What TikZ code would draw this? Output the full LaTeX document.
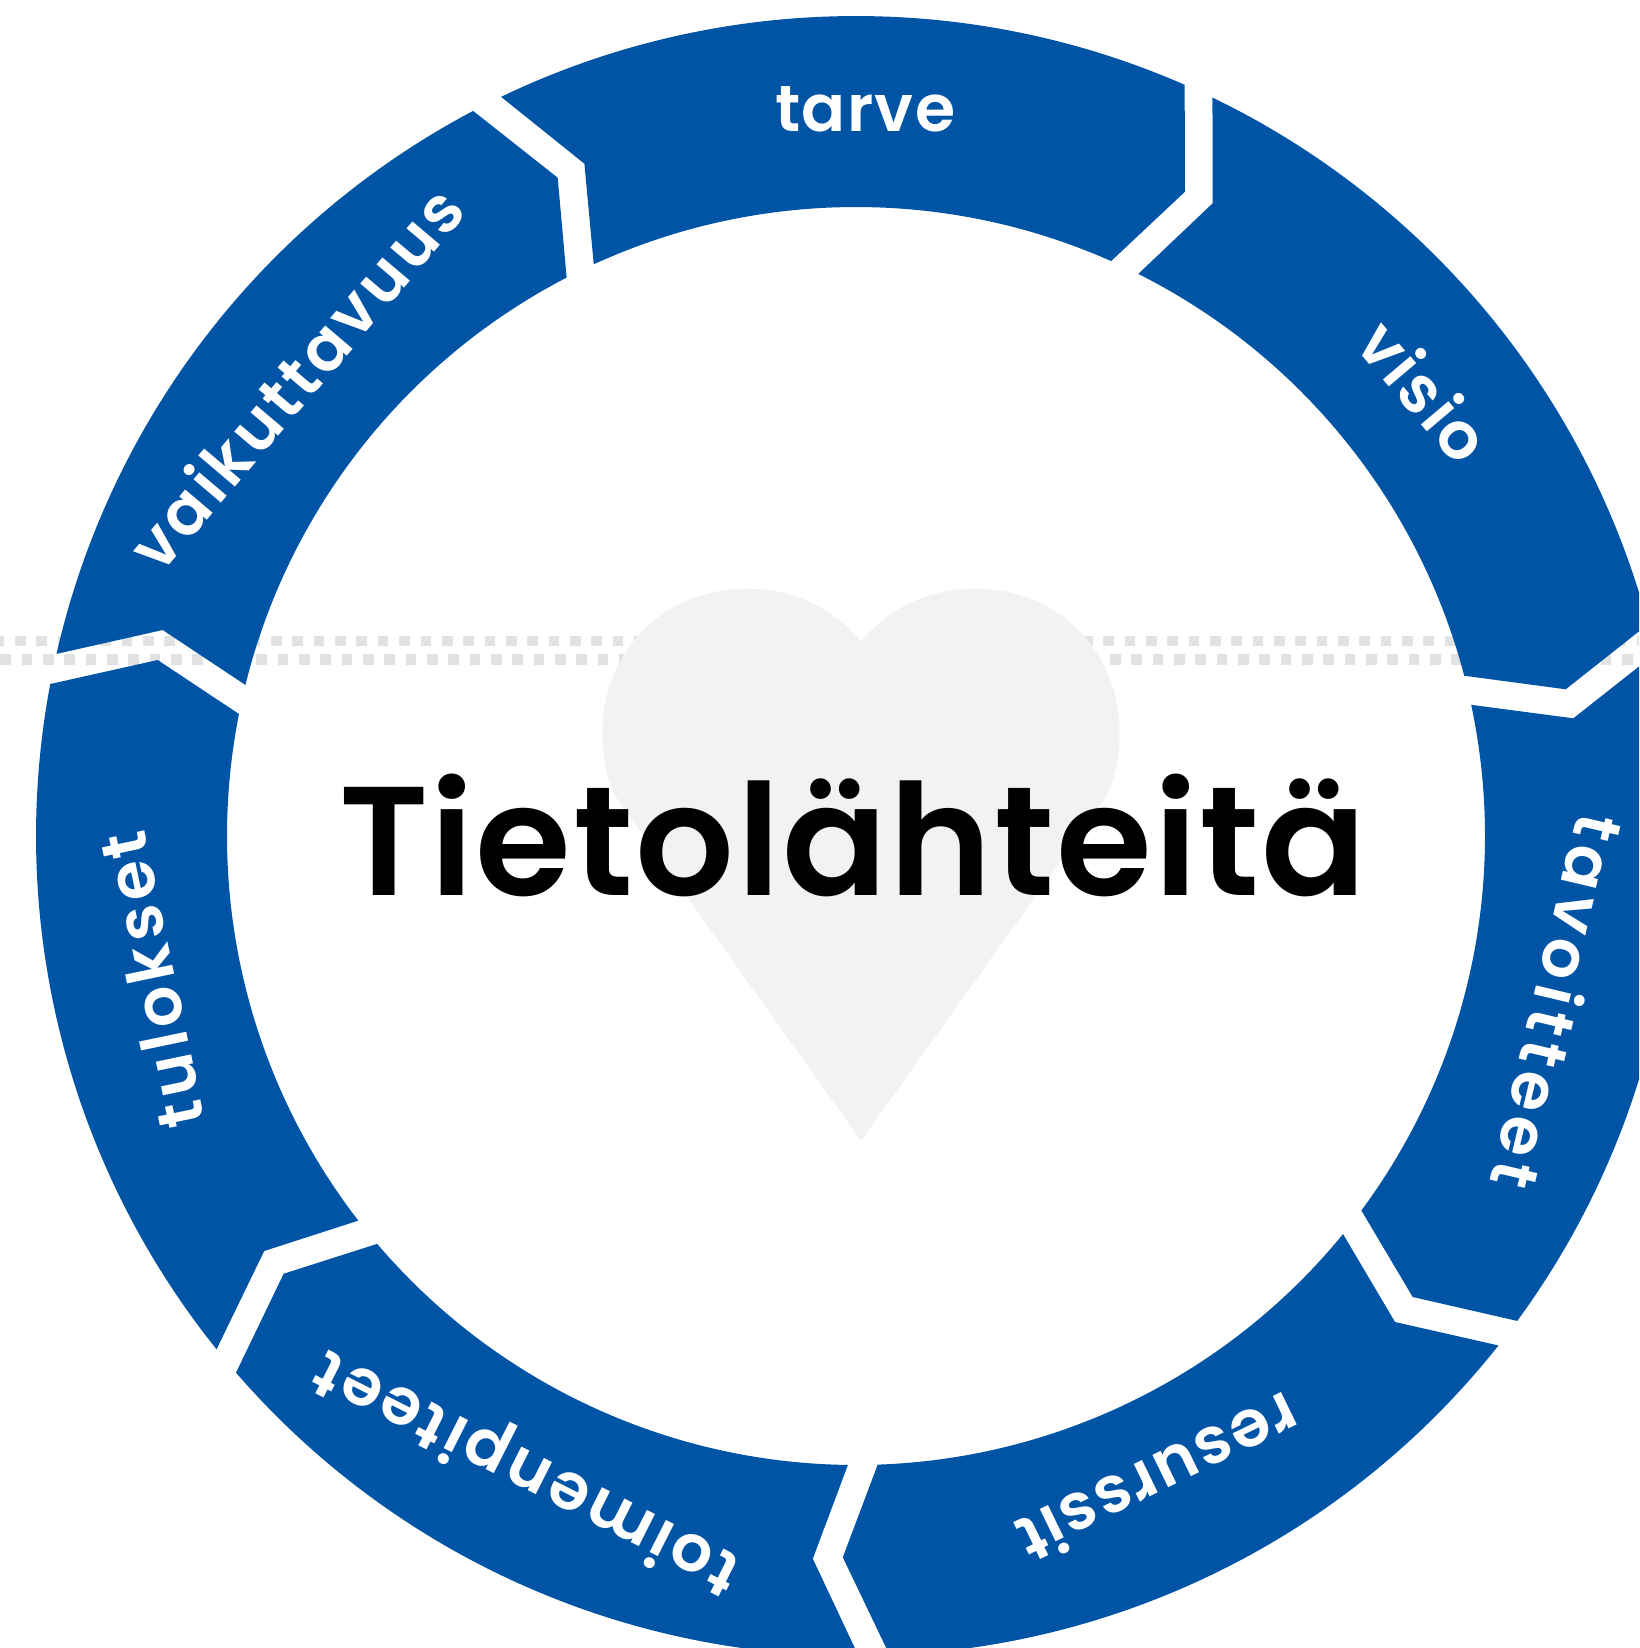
\documentclass[tikz,border=0pt]{standalone}
\usepackage{fontspec}
\newfontfamily\popsb{Poppins SemiBold}
\definecolor{ringblue}{HTML}{0054A6}
\definecolor{heartgray}{HTML}{F2F2F2}
\definecolor{dotgray}{HTML}{E2E2E2}
\tikzset{
  ringfill/.style={fill=ringblue,draw=none},
  dotline/.style={draw=dotgray,line width=10.67pt,dash pattern=on 10.67pt off 10.67pt},
  labeltext/.style={text=white,anchor=base,inner sep=0pt,outer sep=0pt},
  titletext/.style={text=black,anchor=base,inner sep=0pt,outer sep=0pt}
}
% ring segment: outer start, outer end, inner start, inner end; then knees
\def\ringangles(#1,#2)(#3,#4)(#5,#6)(#7,#8){%
  \pgfmathsetmacro\aO{atan2(#2-836,#1-856)}%
  \pgfmathsetmacro\bO{atan2(#4-836,#3-856)}%
  \pgfmathsetmacro\aI{atan2(#6-836,#5-856)}%
  \pgfmathsetmacro\bI{atan2(#8-836,#7-856)}%
  \pgfmathsetmacro\bO{\bO<\aO ? \bO+360 : \bO}%
  \pgfmathsetmacro\bI{\bI<\aI ? \bI+360 : \bI}%
}
\newcommand{\ringseg}[2]{%
  \fill[ringfill] ([shift={(\aO:820pt)}]856,836) arc[start angle=\aO,end angle=\bO,radius=820pt]
    -- (#2) -- ([shift={(\bI:629pt)}]856,836) arc[start angle=\bI,end angle=\aI,radius=629pt]
    -- (#1) -- cycle;
}
% label: name, text, letter space, size, position, rotation, style
\newcommand{\fitlabel}[7]{%
  \node[#7,rotate=#6] (#1) at (#5) {\popsb\fontsize{#4}{#4}\selectfont\addfontfeature{LetterSpace=#3}#2};
}
\begin{document}
\begin{tikzpicture}[x=1pt,y=1pt,yscale=-1]
\useasboundingbox (0,0) rectangle (1639,1648);
\clip (0,0) rectangle (1639,1648);
% dotted guide lines
\draw[dotline] (-6.3,641) -- (1650,641);
\draw[dotline] (0.3,659.3) -- (1650,659.3);
% heart
\fill[heartgray] (861,641)
  .. controls (830,605) and (790,588.7) .. (746,588.7)
  .. controls (665,588.7) and (602.4,650) .. (602.4,732.8)
  .. controls (602.4,760) and (608,784) .. (618,800)
  -- (861,1140.7) -- (1104,800)
  .. controls (1114,784) and (1119.6,760) .. (1119.6,732.8)
  .. controls (1119.6,650) and (1057,588.7) .. (976,588.7)
  .. controls (932,588.7) and (892,605) .. (861,641) -- cycle;
% tarve
\ringangles(501,96.7)(1185,84)(593.6,264)(1111.3,260.7)
\ringseg{584.4,163.7}{1185,191.7}
% visio
\ringangles(1212.6,97.3)(1648.5,624)(1138.4,273.7)(1464.3,675.7)
\ringseg{1212.6,203.3}{1565.7,689.3}
% tavoitteet
\ringangles(1655.6,653.5)(1517.3,1321)(1471.7,704.7)(1361.7,1210.7)
\ringseg{1573.3,718.3}{1412.7,1297}
% resurssit
\ringangles(1498.3,1345.3)(889.7,1655.3)(1343,1234)(877.7,1464.3)
\ringseg{1395,1322}{842.8,1557.3}
% toimenpiteet
\ringangles(858.6,1656)(236.4,1372.3)(847.9,1464.7)(377.4,1243.7)
\ringseg{812.8,1558.7}{283.7,1273.7}
% tulokset
\ringangles(216.9,1349)(50.3,684)(358.7,1220.3)(239,714)
\ringseg{264.2,1251}{157.7,660}
% vaikuttavuus
\ringangles(57,654)(473,110.7)(245.7,685)(566.5,277.3)
\ringseg{162.7,630}{557.7,177.7}
% labels
\fitlabel{ltarve}{tarve}{2}{65}{865.3,131.5}{0}{labeltext}
\fitlabel{lvisio}{visio}{3.5}{65}{1406,407}{-49.7}{labeltext}
\fitlabel{ltavoitteet}{tavoitteet}{10}{65}{1534,996.5}{-103.4}{labeltext}
\fitlabel{lresurssit}{resurssit}{3.8}{65}{1148.8,1457.2}{-154.1}{labeltext}
\fitlabel{ltoimenpiteet}{toimenpiteet}{5.4}{65}{535.5,1454.5}{153.2}{labeltext}
\fitlabel{ltulokset}{tulokset}{7.4}{65}{175,975.2}{101.8}{labeltext}
\fitlabel{lvaikuttavuus}{vaikuttavuus}{5.6}{65}{314.5,394}{49.7}{labeltext}
\fitlabel{ltitle}{Tietolähteitä}{1.4}{155}{853,895}{0}{titletext}
\end{tikzpicture}
\end{document}
